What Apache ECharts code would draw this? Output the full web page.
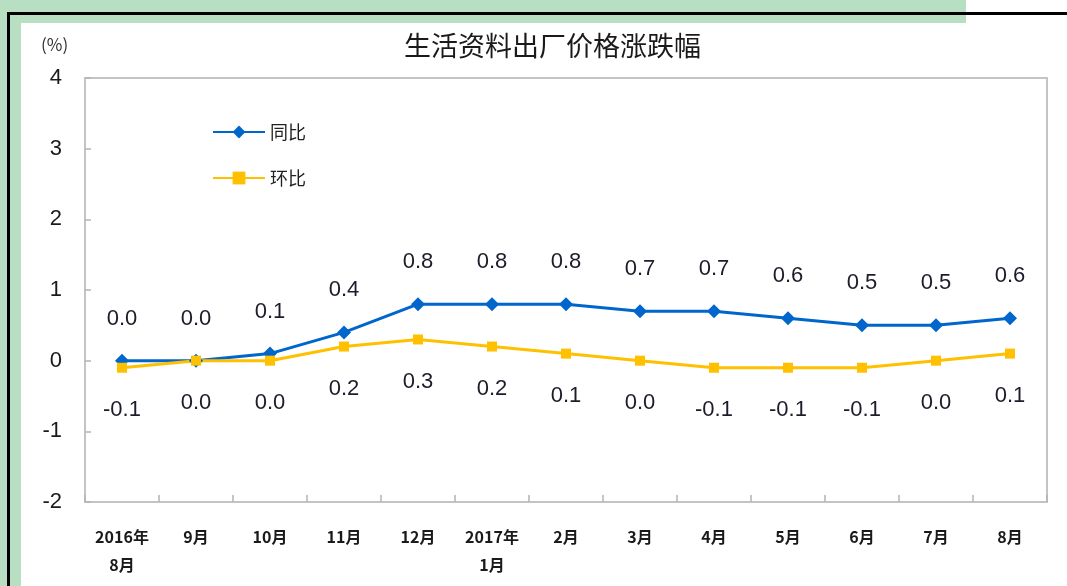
<!DOCTYPE html>
<html>
<head>
<meta charset="utf-8">
<script src="https://cdn.jsdelivr.net/npm/echarts@6/dist/echarts.min.js"></script>
<style>
  html, body { margin: 0; padding: 0; background: #fff; }
  #chart { width: 1067px; height: 586px; }
</style>
</head>
<body>
<div id="chart"></div>
<script>
var categories = ['2016年\n8月', '9月', '10月', '11月', '12月', '2017年\n1月', '2月', '3月', '4月', '5月', '6月', '7月', '8月'];
var yoy = [0.0, 0.0, 0.1, 0.4, 0.8, 0.8, 0.8, 0.7, 0.7, 0.6, 0.5, 0.5, 0.6];   // 同比
var mom = [-0.1, 0.0, 0.0, 0.2, 0.3, 0.2, 0.1, 0.0, -0.1, -0.1, -0.1, 0.0, 0.1]; // 环比

var myChart = echarts.init(document.getElementById('chart'));
var labelFont = { fontFamily: 'Liberation Sans, Arial', fontSize: 22, color: '#1c1c2a' };

option = {
    backgroundColor: '#fff',
    animation: false,
    title: {
        text: '生活资料出厂价格涨跌幅',
        left: 399,
        top: 27,
        textStyle: {
            fontFamily: 'Noto Sans CJK SC',
            fontSize: 27,
            fontWeight: 'normal',
            color: '#1a1a1a'
        }
    },
    graphic: [
        // green frame + black rules
        { type: 'rect', z: -10, shape: { x: 0, y: 0, width: 966, height: 23 }, style: { fill: '#b8dfc1' } },
        { type: 'rect', z: -10, shape: { x: 0, y: 0, width: 21, height: 586 }, style: { fill: '#b8dfc1' } },
        { type: 'rect', z: -9, shape: { x: 7, y: 12, width: 1060, height: 3 }, style: { fill: '#000' } },
        { type: 'rect', z: -9, shape: { x: 7, y: 12, width: 3, height: 574 }, style: { fill: '#000' } },
        {
            type: 'text', left: 41, top: 36,
            style: { text: '(%)', fontFamily: 'Noto Sans CJK SC', fontSize: 17, fill: '#333' }
        }
    ],
    legend: {
        orient: 'vertical',
        left: 207,
        top: 118,
        itemGap: 28,
        itemWidth: 52,
        itemHeight: 16,
        textStyle: { fontFamily: 'Noto Sans CJK SC', fontSize: 18, color: '#222' },
        data: ['同比', '环比']
    },
    grid: {
        left: 85,
        right: 20,
        top: 78,
        bottom: 84,
        show: true,
        borderColor: '#c4c4c4',
        borderWidth: 2,
        backgroundColor: 'transparent'
    },
    xAxis: {
        type: 'category',
        data: categories,
        boundaryGap: true,
        axisLine: { onZero: false, lineStyle: { color: '#c4c4c4', width: 2 } },
        axisTick: { show: true, inside: true, length: 7, interval: 0, lineStyle: { color: '#b4b4b4', width: 1.5 } },
        axisLabel: {
            interval: 0,
            hideOverlap: false,
            margin: 21,
            fontFamily: 'Noto Sans CJK SC',
            fontWeight: 'bold',
            fontSize: 16,
            lineHeight: 28,
            color: '#1a1a1a'
        }
    },
    yAxis: {
        type: 'value',
        min: -2,
        max: 4,
        interval: 1,
        splitLine: { show: false },
        axisLine: { show: true, lineStyle: { color: '#c4c4c4', width: 2 } },
        axisTick: { show: true, inside: true, length: 6, lineStyle: { color: '#b4b4b4', width: 1.5 } },
        axisLabel: {
            margin: 23,
            fontFamily: 'Liberation Sans, Arial',
            fontSize: 22,
            color: '#1a1a1a'
        }
    },
    series: [
        {
            name: '同比',
            type: 'line',
            data: yoy,
            symbol: 'diamond',
            symbolSize: 14,
            color: '#0066cc',
            lineStyle: { width: 3, color: '#0066cc' },
            itemStyle: { color: '#0066cc' },
            label: {
                show: true,
                position: 'top',
                distance: 24,
                formatter: function (p) { return p.value.toFixed(1); },
                fontFamily: labelFont.fontFamily,
                fontSize: labelFont.fontSize,
                color: labelFont.color
            }
        },
        {
            name: '环比',
            type: 'line',
            data: mom,
            symbol: 'rect',
            symbolSize: 10,
            color: '#ffc000',
            lineStyle: { width: 3, color: '#ffc000' },
            itemStyle: { color: '#ffc000' },
            label: {
                show: true,
                position: 'bottom',
                distance: 26,
                formatter: function (p) { return p.value.toFixed(1); },
                fontFamily: labelFont.fontFamily,
                fontSize: labelFont.fontSize,
                color: labelFont.color
            }
        }
    ]
};
myChart.setOption(option);
</script>
</body>
</html>
